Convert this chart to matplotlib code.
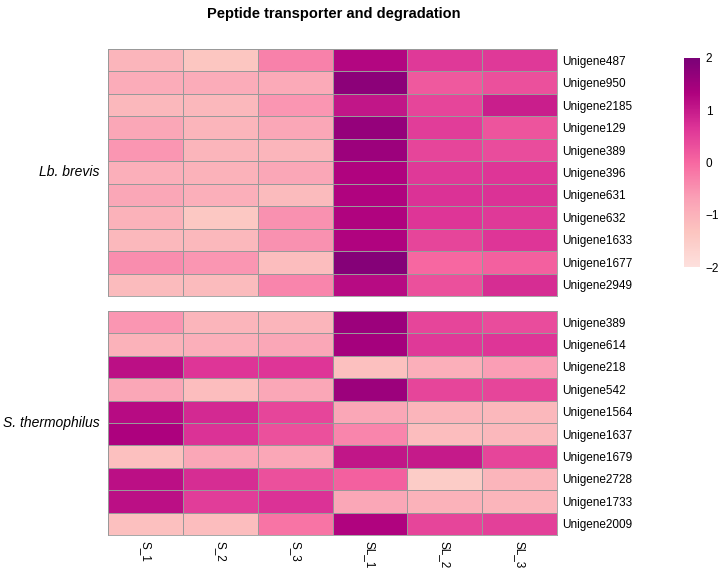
import numpy as np
import matplotlib
matplotlib.use('Agg')
import matplotlib.pyplot as plt
from matplotlib.colors import LinearSegmentedColormap, Normalize
from matplotlib.colorbar import ColorbarBase

plt.rcParams['font.family'] = ['Liberation Sans', 'DejaVu Sans']

samples = ['S_1', 'S_2', 'S_3', 'SL_1', 'SL_2', 'SL_3']

brevis_genes = ['Unigene487', 'Unigene950', 'Unigene2185', 'Unigene129', 'Unigene389',
                'Unigene396', 'Unigene631', 'Unigene632', 'Unigene1633', 'Unigene1677',
                'Unigene2949']
brevis_values = [
    [-1.05, -1.35, -0.30, 1.25, 0.60, 0.60],
    [-0.90, -0.90, -0.85, 1.75, 0.20, 0.30],
    [-1.10, -1.10, -0.55, 1.05, 0.45, 0.95],
    [-0.80, -1.05, -0.80, 1.65, 0.55, 0.25],
    [-0.55, -1.05, -1.05, 1.55, 0.45, 0.35],
    [-0.95, -1.00, -0.80, 1.30, 0.60, 0.65],
    [-0.80, -0.95, -1.15, 1.30, 0.70, 0.70],
    [-1.00, -1.40, -0.50, 1.30, 0.65, 0.60],
    [-1.10, -1.10, -0.50, 1.30, 0.45, 0.65],
    [-0.45, -0.55, -1.20, 1.85, 0.00, 0.10],
    [-1.15, -1.15, -0.35, 1.20, 0.30, 0.75],
]

thermo_genes = ['Unigene389', 'Unigene614', 'Unigene218', 'Unigene542', 'Unigene1564',
                'Unigene1637', 'Unigene1679', 'Unigene2728', 'Unigene1733', 'Unigene2009']
thermo_values = [
    [-0.55, -1.05, -1.05, 1.55, 0.45, 0.35],
    [-1.00, -0.95, -0.80, 1.45, 0.60, 0.65],
    [1.15, 0.65, 0.65, -1.25, -0.95, -0.65],
    [-0.80, -1.20, -0.80, 1.55, 0.45, 0.45],
    [1.20, 0.80, 0.45, -0.80, -1.05, -1.10],
    [1.33, 0.70, 0.30, -0.35, -1.20, -1.10],
    [-1.25, -0.80, -0.80, 1.05, 1.00, 0.45],
    [1.15, 0.75, 0.30, 0.10, -1.50, -1.05],
    [1.15, 0.55, 0.70, -0.80, -1.00, -1.05],
    [-1.25, -1.20, -0.15, 1.30, 0.45, 0.50],
]

cmap = LinearSegmentedColormap.from_list(
    'rdpu', ['#fde0dd', '#fcc5c0', '#fa9fb5', '#f768a1', '#dd3497', '#ae017e', '#7a0177'])
norm = Normalize(vmin=-2, vmax=2)

W, H = 720, 568
fig = plt.figure(figsize=(W / 100, H / 100), dpi=100)


def px_axes(x0, y0, x1, y1):
    # pixel box (top-left origin) -> figure axes
    return fig.add_axes([x0 / W, 1 - y1 / H, (x1 - x0) / W, (y1 - y0) / H])


def draw_panel(ax, values, genes, group):
    data = np.array(values)
    ax.pcolormesh(data, cmap=cmap, norm=norm, edgecolors='#999999', linewidth=0.6)
    ax.set_xlim(0, data.shape[1])
    ax.set_ylim(data.shape[0], 0)
    ax.set_xticks([])
    ax.yaxis.tick_right()
    ax.set_yticks(np.arange(len(genes)) + 0.5)
    ax.set_yticklabels(genes, fontsize=8.5)
    ax.tick_params(axis='y', length=0, pad=4)
    for s in ax.spines.values():
        s.set_color('#999999')
        s.set_linewidth(0.6)
    ax.text(-0.018, 0.5, group, transform=ax.transAxes, ha='right', va='center',
            fontsize=10, style='italic')


ax1 = px_axes(108, 49, 557, 296)
draw_panel(ax1, brevis_values, brevis_genes, 'Lb. brevis')

ax2 = px_axes(108, 311, 557, 535)
draw_panel(ax2, thermo_values, thermo_genes, 'S. thermophilus')
ax2.set_xticks(np.arange(len(samples)) + 0.5)
ax2.set_xticklabels(samples, rotation=-90, fontsize=8.5, va='top')
ax2.tick_params(axis='x', length=0, pad=4)

fig.text(334 / W, 1 - 14 / H, 'Peptide transporter and degradation', ha='center',
         va='center', fontsize=10.5, fontweight='bold')

cax = px_axes(684, 58, 700, 267)
cb = ColorbarBase(cax, cmap=cmap, norm=norm, ticks=[-2, -1, 0, 1, 2])
cb.outline.set_visible(False)
cax.tick_params(length=0, labelsize=8.5, pad=4)

fig.savefig('out.png', dpi=100)
